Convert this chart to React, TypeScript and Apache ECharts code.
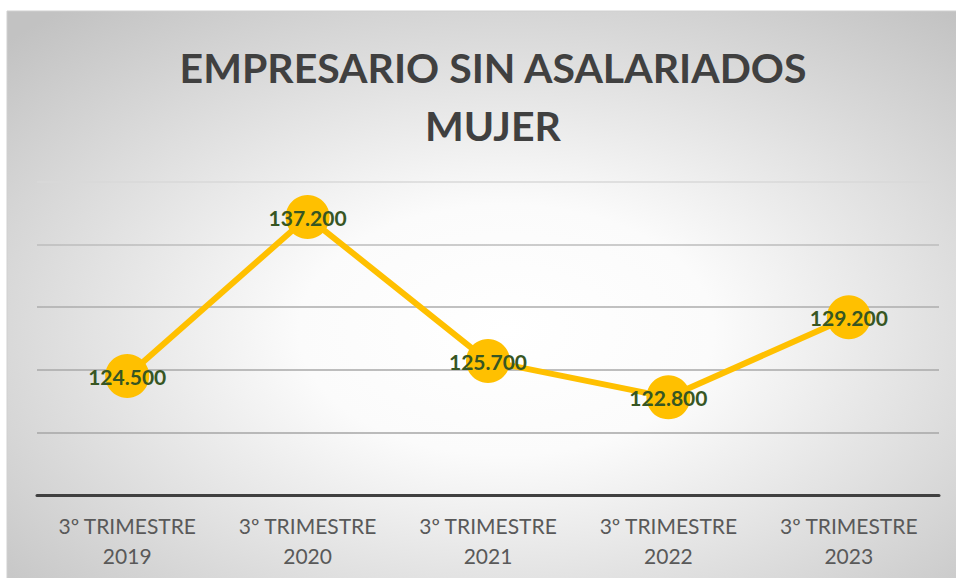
import React, { useEffect, useRef } from "react";
import * as echarts from "echarts";

const titleText = "EMPRESARIO SIN ASALARIADOS\nMUJER";
const categories = [
  "3º TRIMESTRE\n2019",
  "3º TRIMESTRE\n2020",
  "3º TRIMESTRE\n2021",
  "3º TRIMESTRE\n2022",
  "3º TRIMESTRE\n2023",
];
const values = [124.5, 137.2, 125.7, 122.8, 129.2];
const yMin = 115;
const yMax = 140;
const yInterval = 5;

const fmt = (v: number) => v.toFixed(3);

export default function App() {
  const ref = useRef<HTMLDivElement>(null);
  useEffect(() => {
    if (!ref.current) return;
    const chart = echarts.init(ref.current, null, { renderer: "svg" });
    chart.setOption({
      animation: false,
      graphic: [
        {
          type: "rect",
          z: -10,
          silent: true,
          shape: { x: 7, y: 11, width: 960, height: 580 },
          style: {
            fill: new echarts.graphic.RadialGradient(0.52, 0.55, 0.72, [
              { offset: 0, color: "#ffffff" },
              { offset: 0.3, color: "#fbfbfb" },
              { offset: 1, color: "#c2c2c2" },
            ]),
            stroke: "#d0d0d0",
            lineWidth: 1,
          },
        },
      ],
      title: {
        text: titleText,
        left: 488,
        textAlign: "center",
        top: 33,
        textStyle: {
          fontFamily: "Lato",
          fontWeight: "bold",
          fontSize: 41,
          lineHeight: 58,
          color: "#404040",
        },
      },
      grid: { left: 37, right: 17, top: 182, bottom: 83 },
      xAxis: {
        type: "category",
        data: categories,
        boundaryGap: true,
        axisLine: { lineStyle: { color: "#404040", width: 3 } },
        axisTick: { show: false },
        axisLabel: {
          color: "#595959",
          fontFamily: "Lato",
          fontSize: 21,
          lineHeight: 30,
          margin: 15,
        },
      },
      yAxis: {
        type: "value",
        min: yMin,
        max: yMax,
        interval: yInterval,
        axisLabel: { show: false },
        axisLine: { show: false },
        axisTick: { show: false },
        splitLine: {
          lineStyle: {
            color: ["#a6a6a6", "#a6a6a6", "#a8a8a8", "#adadad", "#bdbdbd", "#d9d9d9"],
            width: 1.5,
          },
        },
      },
      series: [
        {
          type: "line",
          data: values,
          symbol: "circle",
          symbolSize: 44,
          itemStyle: { color: "#FFC000" },
          lineStyle: { color: "#FFC000", width: 6 },
          label: {
            show: true,
            position: "inside",
            formatter: (p: any) => fmt(p.value),
            fontFamily: "Lato",
            fontWeight: "bold",
            fontSize: 21,
            color: "#375623",
          },
        },
      ],
    });
    return () => chart.dispose();
  }, []);
  return (
    <div
      ref={ref}
      style={{ position: "fixed", left: 0, top: 0, width: 956, height: 578, background: "#ffffff" }}
    />
  );
}
